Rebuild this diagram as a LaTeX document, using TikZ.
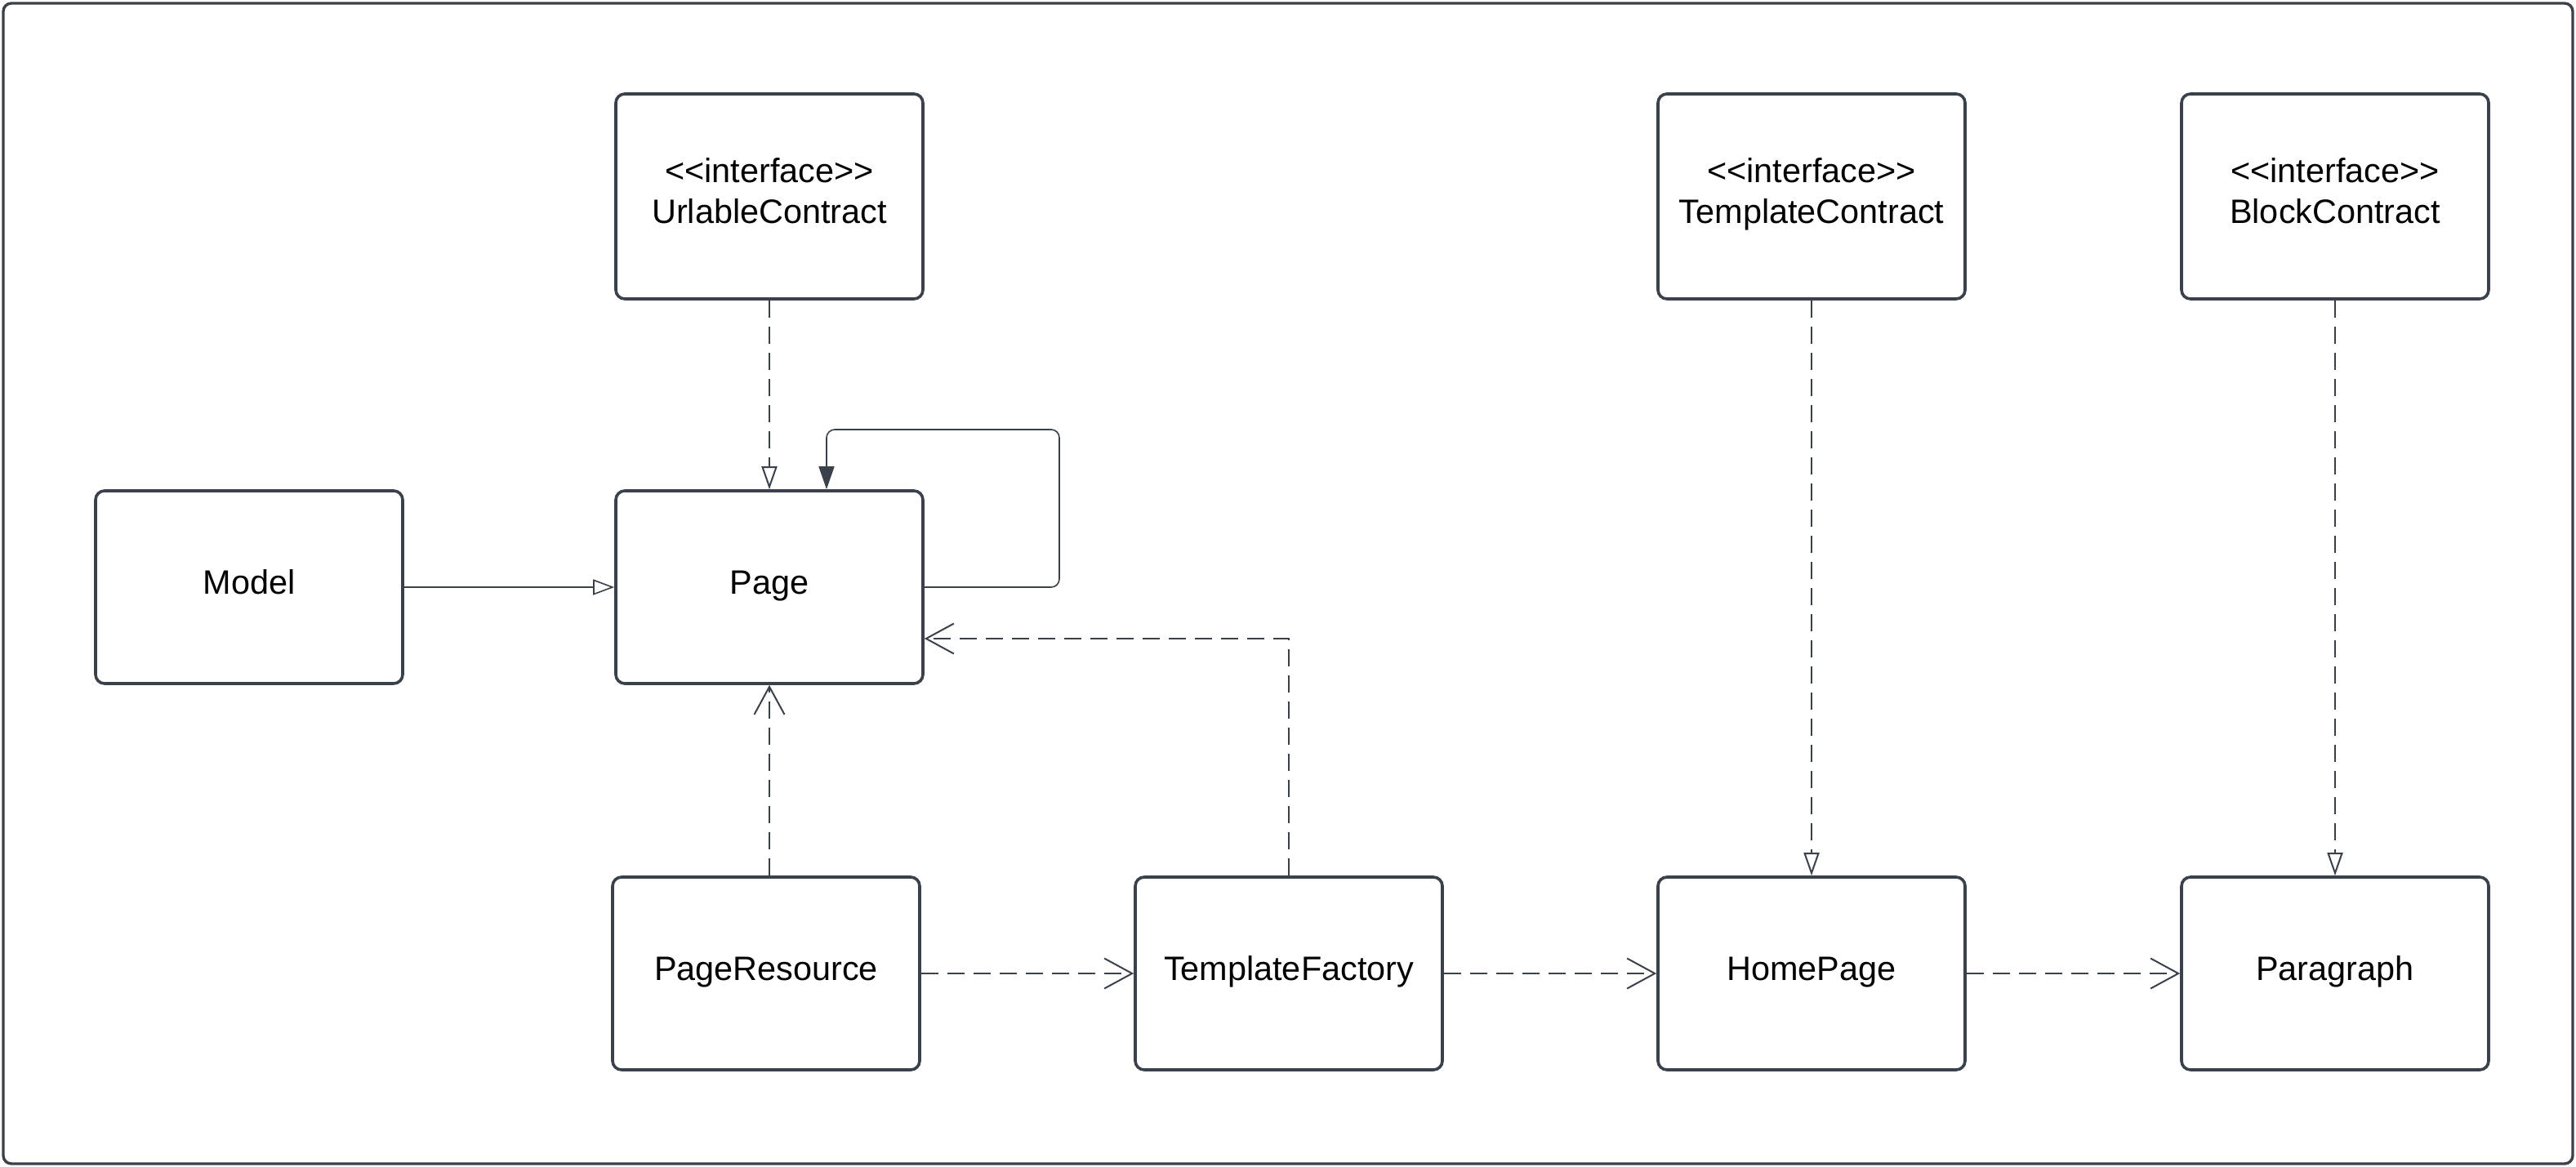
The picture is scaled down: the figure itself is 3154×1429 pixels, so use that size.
\documentclass[tikz,border=0pt]{standalone}
\usepackage{fontspec}
\setmainfont{Liberation Sans}[Ligatures=TeXOff]
\usetikzlibrary{arrows.meta}
\definecolor{ln}{HTML}{3A414A}
\begin{document}
\begin{tikzpicture}[x=0.5pt,y=-0.5pt,
  box/.style={draw=ln, line width=1.8pt, rounded corners=5.5pt, minimum width=188pt, minimum height=118pt, inner sep=0pt, font=\fontsize{20.7}{25}\selectfont, text=black, text height=15pt, text depth=6.3pt},
  ibox/.style={draw=ln, line width=1.8pt, rounded corners=5.5pt, minimum width=188pt, minimum height=125.5pt, inner sep=0pt},
  lbl/.style={inner sep=0pt, align=center, font=\fontsize{20.7}{25}\selectfont, text=black},
  dsh/.style={draw=ln, line width=1pt, dash pattern=on 10.5pt off 5.5pt},
  real/.style={dsh, -{Triangle[open, length=14pt, width=9.5pt, fill=white]}},
  depo/.style={dsh, -{Straight Barb[length=17pt, width=18.5pt, line width=1pt]}},
  gen/.style={draw=ln, line width=0.8pt, -{Triangle[open, length=13pt, width=9.5pt, fill=white]}},
  assoc/.style={draw=ln, line width=0.8pt, rounded corners=5pt, -{Triangle[length=14pt, width=9.5pt]}}
]
\useasboundingbox (0,0) rectangle (3154,1429);
\draw[draw=ln, line width=1.7pt, rounded corners=5pt] (4,4) rectangle (3150,1425);

\node[ibox] (url) at (942,240.5) {};
\node[lbl] (urlT) at ([yshift=1.5pt]url.center) {<<interface>>\\UrlableContract\vphantom{p}};
\node[ibox] (tc) at (2218,240.5) {};
\node[lbl] (tcT) at ([yshift=1.5pt]tc.center) {<<interface>>\\TemplateContract\vphantom{p}};
\node[ibox] (bc) at (2859,240.5) {};
\node[lbl] (bcT) at ([yshift=1.5pt]bc.center) {<<interface>>\\BlockContract\vphantom{p}};

\node[box] (model) at (305,719) {Model};
\node[box] (page) at (942,719) {Page};

\node[box] (pr) at (938,1192) {PageResource};
\node[box] (tf) at (1578,1192) {TemplateFactory};
\node[box] (hp) at (2218,1192) {HomePage};
\node[box] (para) at (2859,1192) {Paragraph};

\draw[real] (url.south) -- (page.north);
\draw[real] (tc.south) -- (hp.north);
\draw[real] (bc.south) -- (para.north);
\draw[gen] (model.east) -- (page.west);
\coordinate (loop) at (1297,526);
\draw[assoc] (page.east) -| (loop) -| ([xshift=35pt]page.north);
\draw[depo] (tf.north) |- ([yshift=-31.5pt]page.east);
\draw[depo] (page.south |- pr.north) -- (page.south);
\draw[depo] (pr.east) -- (tf.west);
\draw[depo] (tf.east) -- (hp.west);
\draw[depo] (hp.east) -- (para.west);
\end{tikzpicture}
\end{document}
